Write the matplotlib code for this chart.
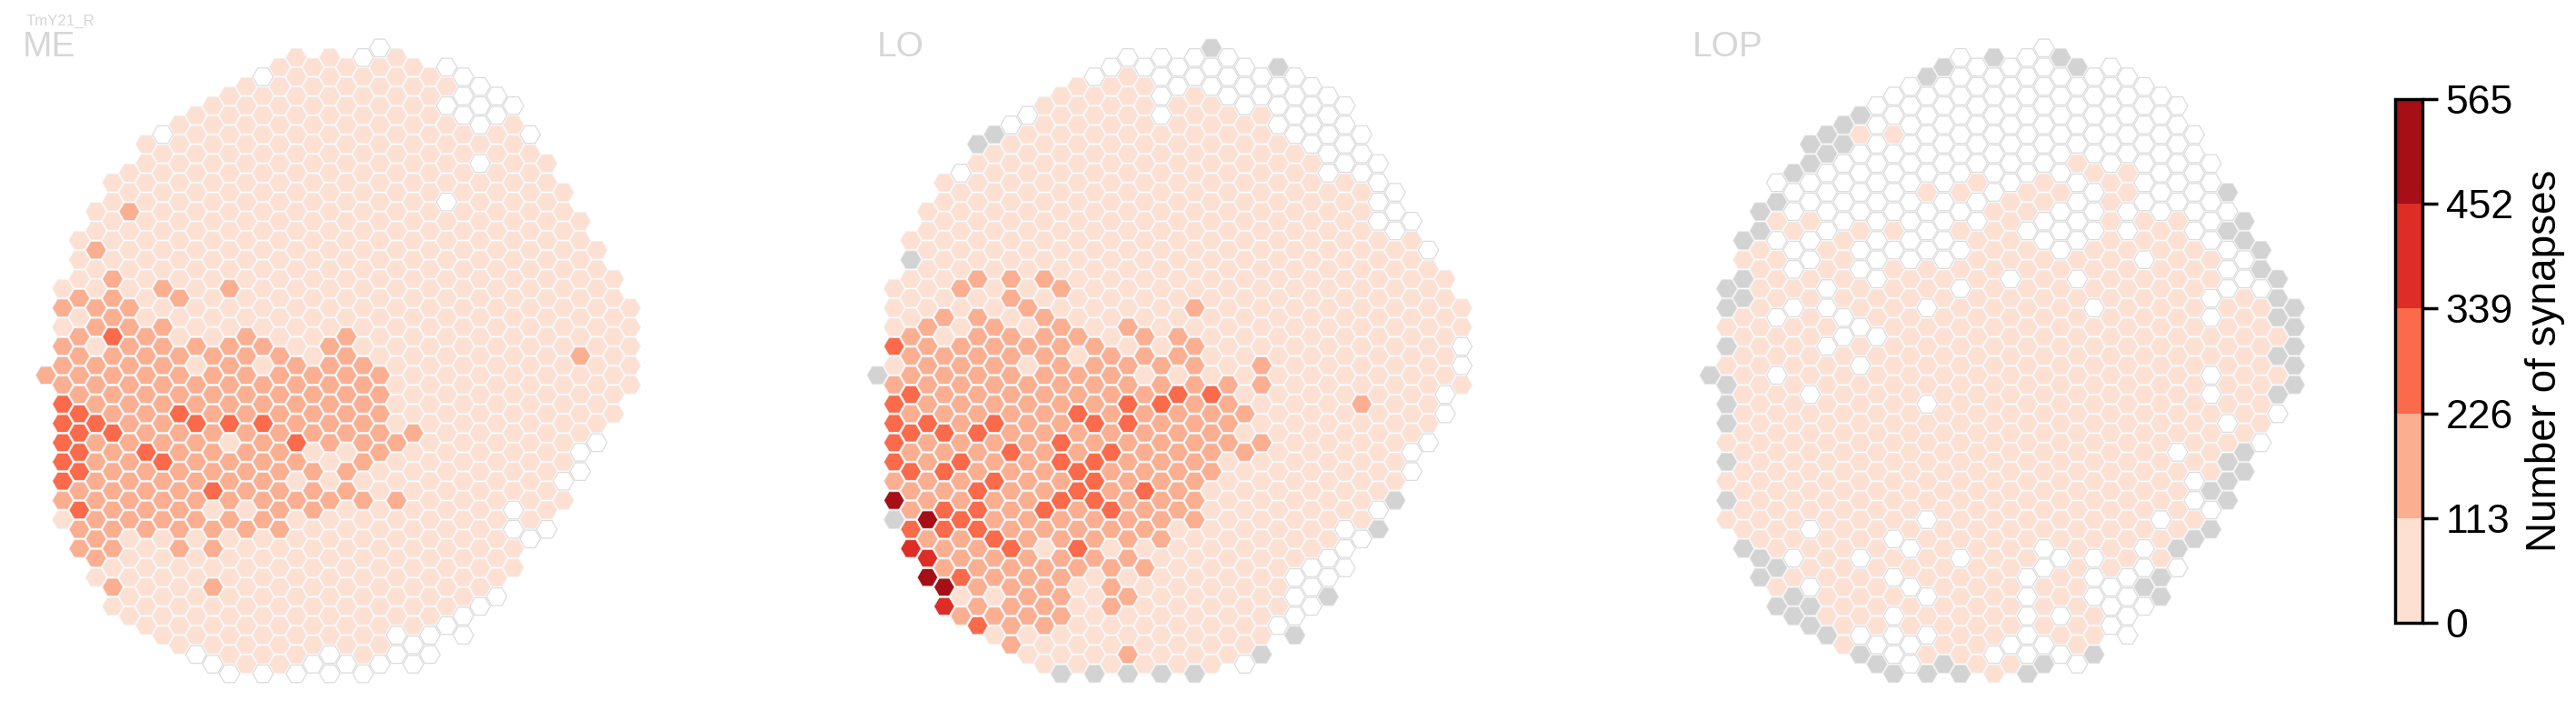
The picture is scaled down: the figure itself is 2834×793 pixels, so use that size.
import matplotlib
matplotlib.use("Agg")
import matplotlib.pyplot as plt
import numpy as np
from matplotlib.collections import PolyCollection
from matplotlib.colors import BoundaryNorm, ListedColormap

# ---------------------------------------------------------------- data
# Each string is one hexagon column, read top to bottom.
# digit = synapse bin (1..5), 0 = no synapses, x = column missing in this neuropil
column_top = [34, 25, 20, 17, 14, 13, 10, 9, 8, 7, 6, 5, 4, 3, 2, 1, 2, 1,
              2, 1, 0, 1, 2, 3, 2, 3, 4, 5, 6, 9, 12, 15, 18, 21, 24, 27]

me_columns = [
    "2",
    "1212223333321",
    "11121222233332322",
    "11211221222322222221",
    "11111222322223222222121",
    "1121111" + "2" * 12 + "1" * 5,
    "1" * 10 + "222222" + "3" + "2222" + "1" * 5,
    "0" + "1" * 7 + "21" + "2" * 7 + "3" + "222" + "1" * 6,
    "1" * 9 + "211" + "222" + "3" + "2" * 7 + "1" * 5,
    "1" * 12 + "21" + "22" + "3" + "2" * 5 + "1" * 6 + "0",
    "1" * 13 + "2" * 7 + "31" + "22" + "12" + "111" + "0",
    "1" * 10 + "211" + "2222" + "31" + "2222" + "1" * 7 + "0",
    "1" * 13 + "2" * 9 + "12" + "1" * 7,
    "0" + "1" * 13 + "21" + "22" + "3" + "2" * 5 + "1" * 7 + "0",
    "1" * 15 + "2" * 10 + "1" * 7,
    "1" * 16 + "2222" + "3" + "2" + "1" + "2" + "1" * 8 + "0",
    "1" * 16 + "2222" + "1" + "222" + "1" * 7 + "0",
    "1" * 15 + "2" * 6 + "11" + "2" + "1" * 7 + "00",
    "1" * 14 + "2" * 6 + "1" + "22" + "1" * 8 + "0",
    "0" + "1" * 15 + "2" * 6 + "12" + "1" * 8 + "0",
    "0" + "1" * 16 + "2" * 5 + "1" * 10 + "0",
    "1" * 20 + "2" + "11" + "2" + "1" * 6 + "00",
    "1" * 19 + "2" + "1" * 10 + "00",
    "1" * 29 + "00",
    "010" + "1" * 4 + "0" + "1" * 21 + "0",
    "000" + "1" * 25 + "00",
    "00010" + "1" * 22 + "0",
    "00" + "1" * 24 + "0",
    "0" + "1" * 20 + "0011",
    "0" + "1" * 20 + "0",
    "1" * 19 + "0",
    "1" * 15 + "01",
    "1" * 7 + "2" + "1" * 4 + "00",
    "1" * 10 + "0",
    "1" * 8,
    "1" * 5,
]

lo_columns = [
    "x",
    "111312333325x",
    "1x111222323232234",
    "11111122222322225245",
    "11111112122223232332254",
    "011111211222222322322312",
    "x111111" + "21" + "2" * 6 + "3" + "22" + "333" + "2222" + "3",
    "x" + "1" * 9 + "2" * 5 + "3" + "22" + "3" + "22" + "3" + "22" + "1" + "2" + "1",
    "0" + "1" * 7 + "221" + "2" * 6 + "3" + "2222" + "3" + "2" * 5,
    "0" + "1" * 9 + "2121" + "2" * 13 + "11",
    "1" * 9 + "21" + "2" * 10 + "3" + "2" + "1" + "2222" + "11",
    "1" * 10 + "21" + "2" * 6 + "33" + "2" + "3" + "2" * 6 + "11x",
    "1" * 13 + "2122322332232" + "1" * 5,
    "0" + "1" * 13 + "2222" + "32333222" + "1" * 5 + "x",
    "0" + "1" * 14 + "2" * 5 + "322321222111",
    "0" + "1" * 13 + "212233" + "2" * 7 + "12112x",
    "0" + "1" * 13 + "2212222232212" + "1" * 5,
    "0000" + "1" * 12 + "223" + "2" * 7 + "1" * 6 + "x",
    "00" + "1" * 12 + "2213" + "2" * 6 + "1" * 8,
    "00" + "1" * 11 + "21" + "2" * 10 + "1" * 7 + "x",
    "x00" + "1" * 15 + "3" + "2222" + "1" * 10,
    "000" + "1" * 14 + "2222" + "1" * 11,
    "000" + "1" * 15 + "212" + "1" * 10 + "0",
    "00" + "1" * 13 + "22" + "112" + "1" * 10 + "x",
    "x000" + "1" * 25 + "0",
    "0000" + "1" * 22 + "000x",
    "0000" + "1" * 21 + "000",
    "00000" + "1" * 19 + "00x",
    "0000" + "1" * 18 + "000",
    "000" + "1" * 11 + "2" + "1" * 6 + "0",
    "0000" + "1" * 14 + "0x",
    "000" + "1" * 13 + "x",
    "0" + "1" * 11 + "00",
    "0" + "1" * 9 + "0",
    "1" * 6 + "00",
    "11001",
]

lop_columns = [
    "x",
    "xx1x1xxx1x1x1",
    "x1xx" + "1" * 12 + "x",
    "xx" + "1" * 16 + "xx",
    "0x10111011" + "0" + "1" * 9 + "x1x",
    "x0010010" + "1" * 12 + "01xx",
    "xx00100111111" + "0" + "1" * 6 + "0110xx",
    "xx00001100" + "10" + "1" * 14 + "x",
    "xx0000111100" + "1" * 16,
    "x10000100" + "11010" + "1" * 9 + "0111" + "0x",
    "0" * 10 + "110" + "1" * 15 + "0x",
    "001" + "0000" + "1" + "0" + "1" * 14 + "0101000x",
    "0" * 10 + "1" * 14 + "0101100",
    "x" + "0" * 5 + "1000" + "11" + "0" + "1111" + "0" + "1" * 5 + "0" + "111" + "0" + "1" + "01x",
    "x" + "0" * 10 + "1" * 20 + "x",
    "0" * 7 + "101010" + "1" * 13 + "0" + "1" * 5 + "x",
    "0" * 6 + "100" + "1" * 23,
    "x" + "0" * 7 + "1" * 23 + "01",
    "0" * 7 + "1111" + "0" + "1" * 18 + "01",
    "0" * 7 + "110" + "1" * 17 + "00000x",
    "0" * 7 + "1100" + "1" * 15 + "001110x",
    "x" + "0" * 6 + "1000" + "1" * 15 + "0" + "11" + "0" + "1" + "0",
    "x" + "0000" + "1" + "0000" + "10" + "1" * 19 + "0",
    "0" * 5 + "1000" + "111" + "0" + "1" * 12 + "00011x",
    "0" * 6 + "1" * 21 + "000",
    "0" * 5 + "1100" + "1" * 17 + "0000",
    "0" * 7 + "110" + "1" * 14 + "00x0",
    "0" * 7 + "1" * 15 + "011xx",
    "0" * 6 + "1" * 12 + "0" + "1111" + "x0",
    "0" * 6 + "1" * 12 + "001x",
    "00000110011001111x0x",
    "x0x00011111101xxx",
    "xx0011111111xx",
    "xx011111110",
    "xxx1x1x0",
    "xxxxx",
]

bin_values = {"1": 56, "2": 170, "3": 283, "4": 396, "5": 508, "0": 0, "x": np.nan}
color_ticks = [0, 113, 226, 339, 452, 565]
bin_colors = ["#fee0d2", "#fcae91", "#fb6a4a", "#de2d26", "#a50f15"]
panel_names = ["ME", "LO", "LOP"]
neuron_name = "TmY21_R"
colorbar_label = "Number of synapses"

# ---------------------------------------------------------------- style / layout
W, H = 2834, 793
TEXT_GREY = "#d6d6d6"
MISSING = "#d3d3d3"
COL_PX = 18.37
ROW_PX = 31.77 / 3
TOP_PX = 52.7
panel_x0 = [50.5, 965.3, 1881.3]
label_centres = [53.5, 991.0, 1900.8]
plt.rcParams["font.family"] = ["Liberation Sans", "DejaVu Sans"]


def hex_verts(c, r, a=0.615, h=0.915):
    return [(c - a, r), (c - a / 2, r - h), (c + a / 2, r - h),
            (c + a, r), (c + a / 2, r + h), (c - a / 2, r + h)]


def cells(columns):
    cols, rows, vals = [], [], []
    for c, (top, s) in enumerate(zip(column_top, columns)):
        assert len(s) == len(me_columns[c]), (c, len(s), len(me_columns[c]))
        for i, ch in enumerate(s):
            cols.append(c)
            rows.append(top + 2 * i)
            vals.append(bin_values[ch])
    return np.array(cols), np.array(rows), np.array(vals, dtype=float)


fig = plt.figure(figsize=(W / 100, H / 100), dpi=100)
cmap = ListedColormap(bin_colors)
norm = BoundaryNorm(color_ticks, cmap.N)

for name, x0, xc, columns in zip(panel_names, panel_x0, label_centres,
                                 [me_columns, lo_columns, lop_columns]):
    ax = fig.add_axes([(x0 - 2 * COL_PX) / W, 0, 39 * COL_PX / W, 1])
    ax.set_xlim(-2, 37)
    ax.set_ylim((H - TOP_PX) / ROW_PX, -TOP_PX / ROW_PX)
    ax.set_axis_off()
    cc, rr, vv = cells(columns)

    mask = np.nan_to_num(vv, nan=-1) > 0
    ax.add_collection(PolyCollection([hex_verts(c, r) for c, r in zip(cc[mask], rr[mask])],
                                     array=vv[mask], cmap=cmap, norm=norm,
                                     edgecolors="#efefef", linewidths=0.6))
    mask = vv == 0
    ax.add_collection(PolyCollection([hex_verts(c, r) for c, r in zip(cc[mask], rr[mask])],
                                     facecolors="white", edgecolors="#dcdcdc", linewidths=0.9))
    mask = np.isnan(vv)
    ax.add_collection(PolyCollection([hex_verts(c, r) for c, r in zip(cc[mask], rr[mask])],
                                     facecolors=MISSING, edgecolors="#e4e4e4", linewidths=0.6))
    fig.text(xc / W, 1 - 62 / H, name, fontsize=28, color=TEXT_GREY, ha="center", va="baseline")

fig.text(66 / W, 1 - 28.3 / H, neuron_name, fontsize=12.1, color=TEXT_GREY,
         ha="center", va="baseline")

# colour bar
cax = fig.add_axes([2635 / W, 1 - 685.2 / H, 30 / W, 576.6 / H])
sm = plt.cm.ScalarMappable(norm=norm, cmap=cmap)
cb = fig.colorbar(sm, cax=cax, ticks=color_ticks, spacing="proportional")
cb.outline.set_linewidth(2.5)
cb.outline.set_edgecolor("black")
cax.tick_params(axis="y", which="major", length=12, width=2.5, pad=6.5, labelsize=32)
cax.minorticks_off()
cax.set_ylabel(colorbar_label, fontsize=33, rotation=90, rotation_mode="anchor",
               ha="center", va="baseline")
cax.yaxis.set_label_coords(177 / 30, 0.5)

fig.savefig("out.png", dpi=100, facecolor="white")
